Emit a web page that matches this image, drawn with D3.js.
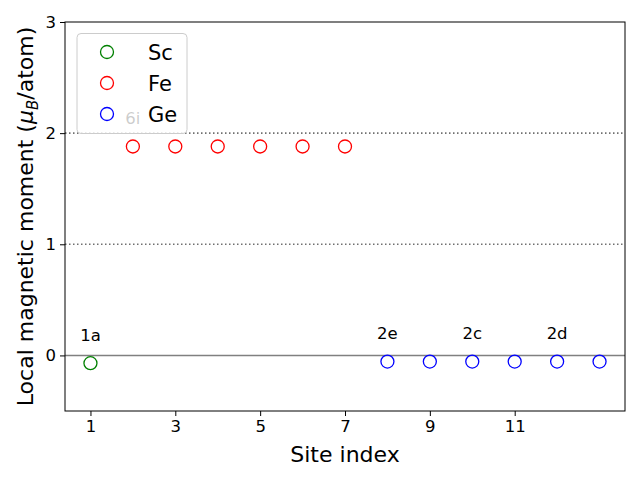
<!DOCTYPE html>
<html><head><meta charset="utf-8">
<script src="https://cdn.jsdelivr.net/npm/d3@7"></script>
<style>body{margin:0;background:#fff}svg{font-family:"DejaVu Sans",sans-serif}</style>
</head><body><svg id="c" width="640" height="480"></svg>
<script>
const scSites = [1];
const scValues = [-0.07];
const feSites = [2, 3, 4, 5, 6, 7];
const feValues = [1.88, 1.88, 1.88, 1.88, 1.88, 1.88];
const geSites = [8, 9, 10, 11, 12, 13];
const geValues = [-0.055, -0.055, -0.055, -0.055, -0.055, -0.055];
const xTicks = [1, 3, 5, 7, 9, 11];
const yTicks = [0, 1, 2, 3];
const siteLabels = [
  {site: 1, value: -0.07, text: "1a"},
  {site: 2, value: 1.88, text: "6i"},
  {site: 8, value: -0.055, text: "2e"},
  {site: 10, value: -0.055, text: "2c"},
  {site: 12, value: -0.055, text: "2d"}
];
const series = [
  {name: "Sc", sites: scSites, values: scValues, color: "green"},
  {name: "Fe", sites: feSites, values: feValues, color: "red"},
  {name: "Ge", sites: geSites, values: geValues, color: "blue"}
];

const L = 65, R = 625, T = 22, B = 411;
const svg = d3.select("#c");
const x = d3.scaleLinear().domain([0.4, 13.6]).range([L, R]);
const y = d3.scaleLinear().domain([-0.5, 3]).range([B, T]);

// reference lines
svg.append("line").attr("x1", L).attr("x2", R).attr("y1", y(0)).attr("y2", y(0))
  .attr("stroke", "gray").attr("stroke-width", 1.5);
[1, 2].forEach(v => svg.append("line").attr("x1", L).attr("x2", R).attr("y1", y(v)).attr("y2", y(v))
  .attr("stroke", "#707070").attr("stroke-width", 1.6).attr("stroke-dasharray", "1.5,2.5"));

// points
series.forEach(s => {
  svg.append("g").selectAll("circle").data(s.sites.map((d, i) => [d, s.values[i]])).join("circle")
    .attr("cx", d => x(d[0])).attr("cy", d => y(d[1])).attr("r", 6.5)
    .attr("fill", "none").attr("stroke", s.color).attr("stroke-width", 1.3);
});

// site labels
svg.append("g").selectAll("text").data(siteLabels).join("text")
  .attr("x", d => x(d.site)).attr("y", d => y(d.value + 0.2))
  .attr("text-anchor", "middle").attr("font-size", 16.5).attr("fill", "black")
  .text(d => d.text);

// axes
const xa = svg.append("g").attr("transform", `translate(0,${B})`)
  .call(d3.axisBottom(x).tickValues(xTicks).tickFormat(d3.format("d")).tickSize(5).tickPadding(4));
const ya = svg.append("g").attr("transform", `translate(${L},0)`)
  .call(d3.axisLeft(y).tickValues(yTicks).tickFormat(d3.format("d")).tickSize(5).tickPadding(4));
[xa, ya].forEach(a => {
  a.select(".domain").remove();
  a.selectAll("text").attr("font-size", 16.5).attr("font-family", "DejaVu Sans").attr("fill", "black");
  a.selectAll("line").attr("stroke", "black").attr("stroke-width", 1);
});
svg.append("rect").attr("x", L).attr("y", T).attr("width", R - L).attr("height", B - T)
  .attr("fill", "none").attr("stroke", "black").attr("stroke-width", 1);

// axis labels
svg.append("text").attr("x", (L + R) / 2).attr("y", 462).attr("text-anchor", "middle")
  .attr("font-size", 22).text("Site index");
const yl = svg.append("text").attr("transform", `translate(33,${(T + B) / 2}) rotate(-90)`)
  .attr("text-anchor", "middle").attr("font-size", 22);
yl.append("tspan").text("Local magnetic moment (");
yl.append("tspan").attr("font-style", "italic").text("μ");
yl.append("tspan").attr("font-style", "italic").attr("font-size", 15).attr("dy", 5).text("B");
yl.append("tspan").attr("dy", -5).text("/atom)");

// legend
const lg = svg.append("g");
lg.append("rect").attr("x", 77).attr("y", 33.5).attr("width", 110).attr("height", 100).attr("rx", 4)
  .attr("fill", "white").attr("fill-opacity", 0.8).attr("stroke", "#cccccc").attr("stroke-width", 1);
series.forEach((s, i) => {
  const cy = 52 + i * 31;
  lg.append("circle").attr("cx", 107).attr("cy", cy).attr("r", 6.5)
    .attr("fill", "none").attr("stroke", s.color).attr("stroke-width", 1.3);
  lg.append("text").attr("x", 148).attr("y", cy + 7.5).attr("font-size", 21).text(s.name);
});
</script></body></html>
